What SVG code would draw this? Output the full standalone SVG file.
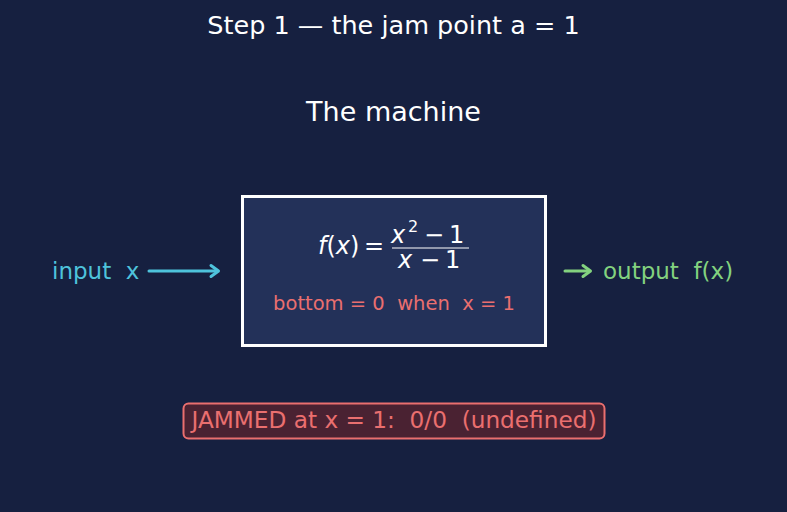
<svg xmlns="http://www.w3.org/2000/svg" width="787" height="512" viewBox="0 0 787 512">
<defs>
<style>
text{font-family:"DejaVu Sans",sans-serif;white-space:pre}
.w{fill:#ffffff}
.red{fill:#ea6f6f}
.cyan{fill:#4ec3dc}
.green{fill:#83d27f}
.it{font-style:italic}
.m{font-size:24px;fill:#ffffff}
</style>
</defs>
<rect width="787" height="512" fill="#162040"/>
<text x="393.5" y="34" text-anchor="middle" font-size="25.5" class="w">Step 1 — the jam point a = 1</text>
<text x="393.5" y="121" text-anchor="middle" font-size="27" class="w">The machine</text>
<g id="machine">
<rect x="242.5" y="196.5" width="303" height="149" fill="#233159" stroke="#ffffff" stroke-width="3"/>
<text x="318" y="254" class="m"><tspan class="it">f</tspan>(<tspan class="it">x</tspan>)</text>
<text x="364" y="254" class="m">=</text>
<text x="391" y="243" class="m it">x</text>
<text x="408" y="232" font-size="16" class="w">2</text>
<text x="424" y="243" class="m">−</text>
<text x="449" y="243" class="m">1</text>
<line x1="392" y1="248" x2="469" y2="248" stroke="#ffffff" stroke-width="1.2"/>
<text x="398" y="268" class="m it">x</text>
<text x="420" y="268" class="m">−</text>
<text x="445" y="268" class="m">1</text>
<text x="394" y="310" text-anchor="middle" font-size="19.5" class="red">bottom = 0  when  x = 1</text>
</g>
<g id="input">
<text x="52" y="279" font-size="23" class="cyan">input  x</text>
</g>
<g id="output">
<text x="603" y="279" font-size="23" class="green">output  f(x)</text>
</g>
<g id="connectors" stroke-linecap="round" fill="none" stroke-width="3">
<line x1="149" y1="271" x2="217" y2="271" stroke="#4ec3dc"/>
<path d="M211,265.5 L218.5,271 L211,276.5" stroke="#4ec3dc" stroke-linejoin="round"/>
<line x1="565" y1="271" x2="589" y2="271" stroke="#83d27f"/>
<path d="M583,265.5 L590.5,271 L583,276.5" stroke="#83d27f" stroke-linejoin="round"/>
</g>
<g id="jammed">
<rect x="183.5" y="403.5" width="421" height="35" rx="5" fill="#4a2232" stroke="#ea6f6f" stroke-width="2"/>
<text x="394" y="428" text-anchor="middle" font-size="23.2" class="red">JAMMED at x = 1:  0/0  (undefined)</text>
</g>
</svg>
